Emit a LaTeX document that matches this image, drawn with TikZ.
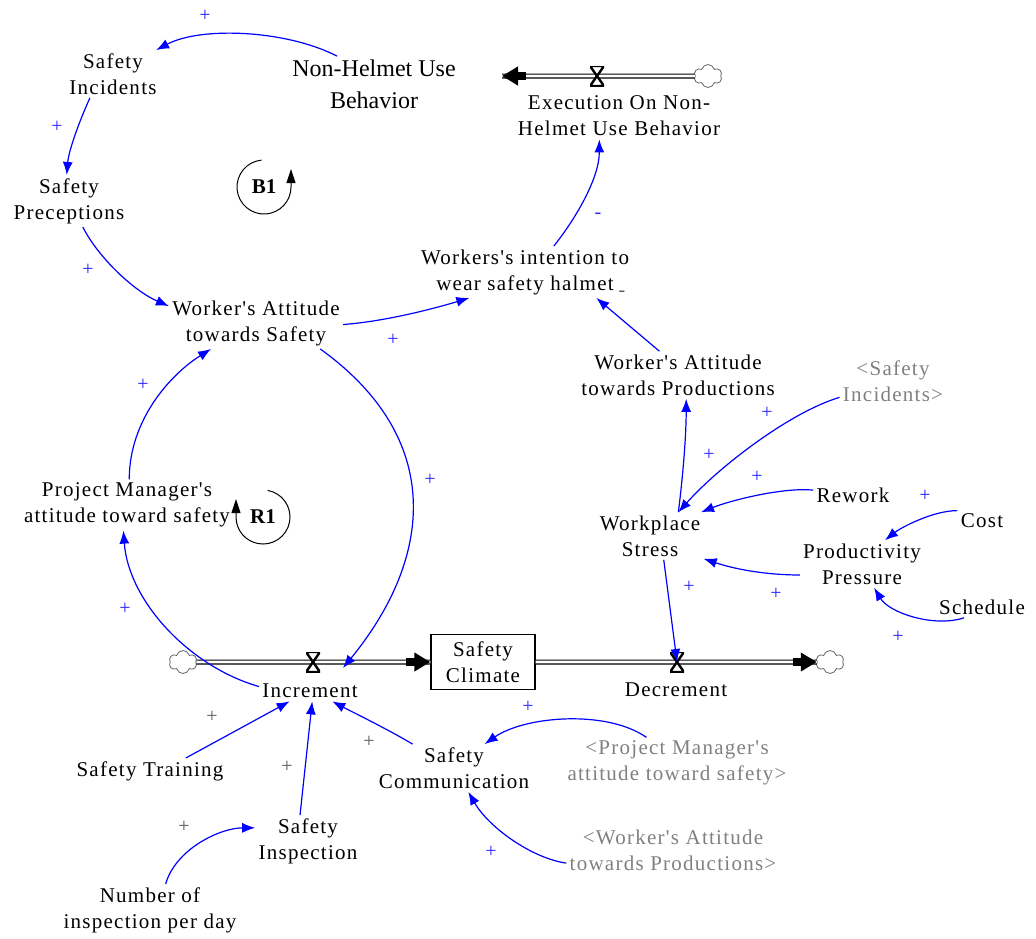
\documentclass[tikz,border=0pt]{standalone}
\usepackage{fontspec}
\setmainfont{Liberation Serif}
\newfontfamily\varfont[LetterSpace=6]{Liberation Serif}
\usepackage{tikz}
\usetikzlibrary{arrows.meta, shapes.symbols}

\begin{document}
\begin{tikzpicture}[x=0.5pt, y=-0.5pt,
        var/.style={align=center, inner sep=1.5pt, font=\varfont\fontsize{10.5}{13}\selectfont},
        bigvar/.style={var, font=\rmfamily\fontsize{12}{16}\selectfont},
        shadowvar/.style={var, text=black!50},
        stock/.style={var, draw, line width=0.7pt, fill=white, minimum width=52pt, minimum height=27.5pt},
        link/.style={draw=blue, line width=0.6pt, -{Latex[length=6.5pt, width=5pt]}},
        pol/.style={text=blue!85, font=\fontsize{10}{10}\selectfont, inner sep=0pt},
        polk/.style={pol, text=black!65},
        pipe/.style={draw=black, double=white, double distance=1.3pt, line width=0.6pt},
        flowtip/.style={line width=4pt, -{Triangle[length=8pt, width=9pt]}},
        cloudy/.style={cloud, cloud puffs=6, aspect=1.2, draw=black!60, fill=white, minimum width=14pt, minimum height=11.5pt, inner sep=0pt},
        valve/.style={minimum width=7pt, minimum height=10pt, inner sep=0pt,
            path picture={\filldraw[fill=white, line width=1.2pt] (path picture bounding box.north west) -- (path picture bounding box.north east) -- (path picture bounding box.south west) -- (path picture bounding box.south east) -- cycle;}},
        loopsym/.style={font=\rmfamily\fontsize{10.5}{12}\selectfont\bfseries, inner sep=0pt},
        looparr/.style={line width=0.5pt, -{Triangle[length=7pt, width=4.5pt]}},
    ]
    \useasboundingbox (0,0) rectangle (1036,938);

    \node[var] at (113, 74) (nsi) {Safety\\Incidents};
    \node[bigvar] at (374, 84) (nnh) {Non-Helmet Use\\Behavior};
    \node[var] at (619, 116) (nexe) {Execution On Non-\\Helmet Use Behavior};
    \node[var] at (69, 201) (nsp) {Safety\\Preceptions};
    \node[var] at (525, 272) (nint) {Workers's intention to\\wear safety halmet};
    \node[var] at (256, 323) (nwas) {Worker's Attitude\\towards Safety};
    \node[var] at (678, 375) (nwap) {Worker's Attitude\\towards Productions};
    \node[shadowvar] at (893, 381) (nsig) {<Safety\\Incidents>};
    \node[var] at (127, 505) (npm) {Project Manager's\\attitude toward safety};
    \node[var] at (650, 536) (nws) {Workplace\\Stress};
    \node[var] at (853, 495) (nrw) {Rework};
    \node[var] at (982, 521) (ncost) {Cost};
    \node[var] at (862, 564) (npp) {Productivity\\Pressure};
    \node[var] at (982, 607) (nsch) {Schedule};
    \node[var] at (150, 771) (nst) {Safety Training};
    \node[var] at (454, 768) (nscom) {Safety\\Communication};
    \node[shadowvar] at (677, 763) (npmg) {<Project Manager's\\attitude toward safety>};
    \node[var] at (308, 841) (nsin) {Safety\\Inspection};
    \node[shadowvar] at (673, 850) (nwapg) {<Worker's Attitude\\towards Productions>};
    \node[var] at (150, 910) (nnum) {Number of\\inspection per day};

    % flows
    \node[cloudy] at (708, 76) (ctop) {};
    \coordinate (nhin) at (502, 76);
    \draw[pipe] (ctop.west) -- (nhin);
    \draw[flowtip] ([xshift=12pt]nhin) -- (nhin);
    \node[valve] at (597, 76) (vexe) {};

    \node[cloudy] at (183, 662) (cl) {};
    \node[cloudy] at (830, 662) (cr) {};
    \node[stock] at (483, 662) (nsc) {Safety\\Climate};
    \draw[pipe] (cl.east) -- (nsc.west);
    \draw[flowtip] ([xshift=-12pt]nsc.west) -- (nsc.west);
    \draw[pipe] (nsc.east) -- (cr.west);
    \draw[flowtip] ([xshift=-12pt]cr.west) -- (cr.west);
    \node[valve] at (313, 662) (vinc) {};
    \node[valve] at (677, 662) (vdec) {};
    \node[var] at (310, 691) (ninc) {Increment};
    \node[var] at (676, 690) (ndec) {Decrement};
    \coordinate (incarr) at (343, 668);

    % loops
    \node[loopsym] at (264, 187) (lb1) {B1};
    \node[loopsym] at (263, 517) (lr1) {R1};
    \draw[looparr] ([shift={(95:13.5pt)}]lb1.center) arc[start angle=95, end angle=360, radius=13.5pt] -- ++(0,-18);
    \draw[looparr] ([shift={(80:13.5pt)}]lr1.center) arc[start angle=80, end angle=-180, radius=13.5pt] -- ++(0,-18);

    % links
    \draw[link] (nnh.143) .. controls +(-50,-26) and +(45,-24) .. (nsi.29);
    \draw[link] (nsi.226) .. controls +(-10,22) and +(2,-25) .. (nsp.95);
    \draw[link] (nsp.-62) .. controls +(15,30) and +(-35,-15) .. (nwas.169);
    \draw[link] (nwas.-1) .. controls +(40,-3) and +(-40,12) .. (nint.205);
    \draw[link] (nint.42) .. controls +(20,-25) and +(0,40) .. (nexe.230);
    \draw[link] (nwap.128) -- (nint.-20);
    \draw[link] (nws.40) .. controls +(5,-40) and +(0,35) .. (nwap.-71);
    \draw[link] (nsig.197) .. controls +(-50,15) and +(40,-45) .. (nws.40);
    \draw[link] (nrw.173) .. controls +(-30,-3) and +(30,-12) .. (nws.25);
    \draw[link] (ncost.157) .. controls +(-25,0) and +(15,-12) .. (npp.46);
    \draw[link] (nsch.211) .. controls +(-30,10) and +(15,25) .. (npp.-63);
    \draw[link] (npp.190) .. controls +(-35,0) and +(30,10) .. (nws.-23);
    \draw[link] (nws.-60) -- (vdec.center);
    \draw[link] (nwas.-22) .. controls +(125,90) and +(90,-110) .. (incarr);
    \draw[link] (ninc.175) .. controls +(-70,-20) and +(5,70) .. (npm.262);
    \draw[link] (npm.85) .. controls +(0,-60) and +(-40,25) .. (nwas.210);
    \draw[link] (nst.20) -- (ninc.207);
    \draw[link] (nsin.107) -- (ninc.282);
    \draw[link] (nscom.150) .. controls +(-25,-15) and +(15,8) .. (ninc.335);
    \draw[link] (npmg.140) .. controls +(-40,-28) and +(40,-28) .. (nscom.38);
    \draw[link] (nwapg.187) .. controls +(-35,-5) and +(20,35) .. (nscom.-59);
    \draw[link] (nnum.59) .. controls +(10,-35) and +(-35,0) .. (nsin.166);

    % polarities
    \node[pol] at (205, 16) (p1) {+};
    \node[pol] at (57, 127) (p2) {+};
    \node[pol] at (88, 270) (p3) {+};
    \node[pol] at (393, 340) (p4) {+};
    \node[pol] at (598, 216) (p5) {-};
    \node[polk] at (622, 294) (p6) {-};
    \node[pol] at (709, 455) (p7) {+};
    \node[pol] at (767, 413) (p8) {+};
    \node[pol] at (757, 477) (p9) {+};
    \node[pol] at (925, 496) (p10) {+};
    \node[pol] at (898, 637) (p11) {+};
    \node[pol] at (776, 594) (p12) {+};
    \node[pol] at (689, 587) (p13) {+};
    \node[pol] at (430, 480) (p14) {+};
    \node[pol] at (125, 609) (p15) {+};
    \node[pol] at (143, 385) (p16) {+};
    \node[polk] at (212, 717) (p17) {+};
    \node[polk] at (287, 767) (p18) {+};
    \node[polk] at (369, 742) (p19) {+};
    \node[pol] at (528, 707) (p20) {+};
    \node[pol] at (491, 852) (p21) {+};
    \node[polk] at (184, 827) (p22) {+};
\end{tikzpicture}
\end{document}
